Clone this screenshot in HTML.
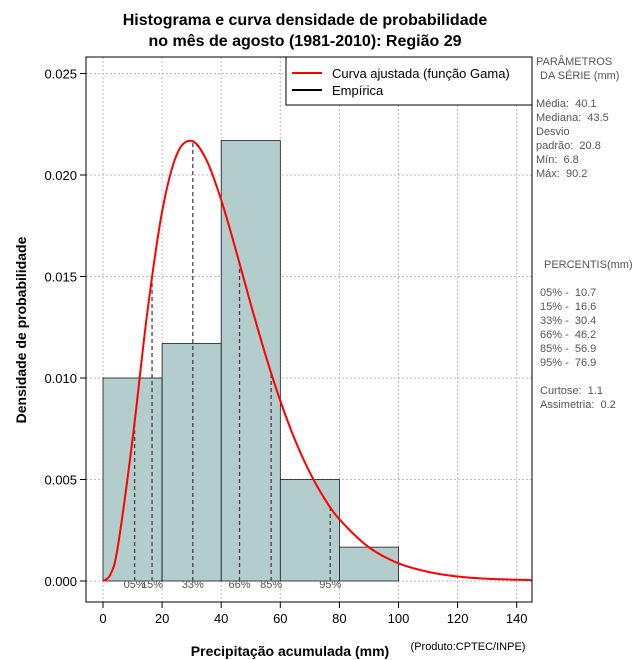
<!DOCTYPE html>
<html><head><meta charset="utf-8"><style>
body{margin:0;background:#fff;width:640px;height:660px;overflow:hidden}
svg{display:block;font-family:"Liberation Sans",sans-serif}
.side{fill:#555;font-size:11px;white-space:pre}
</style></head><body>
<svg id="c" width="640" height="660">
<text x="305" y="25" text-anchor="middle" font-size="16" font-weight="bold">Histograma e curva densidade de probabilidade</text>
<text x="305" y="46" text-anchor="middle" font-size="16" font-weight="bold">no mês de agosto (1981-2010): Região 29</text>
<g id="grid"></g><g id="bars"></g><g id="pct"></g><g id="curve"></g><g id="axes"></g>
<text x="290" y="656" text-anchor="middle" font-size="14" font-weight="bold">Precipitação acumulada (mm)</text>
<text x="468" y="650" text-anchor="middle" font-size="11">(Produto:CPTEC/INPE)</text>
<text transform="translate(26,330) rotate(-90)" text-anchor="middle" font-size="14" font-weight="bold">Densidade de probabilidade</text>
<g>
<rect x="286" y="57" width="246" height="48" fill="#fff" stroke="#000"/>
<line x1="292" y1="73" x2="322" y2="73" stroke="red" stroke-width="2"/>
<text x="332" y="78" font-size="13">Curva ajustada (função Gama)</text>
<line x1="292" y1="90" x2="322" y2="90" stroke="#000" stroke-width="2"/>
<text x="332" y="95" font-size="13">Empírica</text>
</g>
<g>
<text class="side" x="536" y="65">PARÂMETROS</text>
<text class="side" x="540" y="79">DA SÉRIE (mm)</text>
<text class="side" x="536" y="107">Média:  40.1</text>
<text class="side" x="536" y="121">Mediana:  43.5</text>
<text class="side" x="536" y="135">Desvio</text>
<text class="side" x="536" y="149">padrão:  20.8</text>
<text class="side" x="536" y="163">Mín:  6.8</text>
<text class="side" x="536" y="177">Máx:  90.2</text>
<text class="side" x="544" y="268">PERCENTIS(mm)</text>
<text class="side" x="540" y="296">05% -  10.7</text>
<text class="side" x="540" y="310">15% -  16.6</text>
<text class="side" x="540" y="324">33% -  30.4</text>
<text class="side" x="540" y="338">66% -  46.2</text>
<text class="side" x="540" y="352">85% -  56.9</text>
<text class="side" x="540" y="366">95% -  76.9</text>
<text class="side" x="540" y="394">Curtose:  1.1</text>
<text class="side" x="540" y="408">Assimetria:  0.2</text>
</g>
</svg>
<script>
const binEdges=[0,20,40,60,80,100];
const binDensity=[0.0100,0.0117,0.0217,0.0050,0.00167];
const curveX=[0,2.5,5,10,15,20,25,30,35,40,45,50,55,60,65,70,75,80,90,100,110,120,130,145];
const curveY=[0,0.00032,0.00168,0.00698,0.01323,0.01819,0.02102,0.02168,0.02074,0.01877,0.01628,0.01364,0.01113,0.00888,0.00694,0.00534,0.00405,0.00304,0.00166,0.00087,0.00045,0.00022,0.00011,0.00004];
const pctLabels=["05%","15%","33%","66%","85%","95%"];
const pctValues=[10.7,16.6,30.4,46.2,56.9,76.9];
const xTicks=[0,20,40,60,80,100,120,140];
const yTicks=[0,0.005,0.010,0.015,0.020,0.025];
const NS="http://www.w3.org/2000/svg";
const L=86,R=532,T=57,B=602;
const sx=v=>103+v*2.955;
const sy=v=>581-v*20300;
function mk(p,tag,a){const e=document.createElementNS(NS,tag);for(const k in a)e.setAttribute(k,a[k]);document.getElementById(p).appendChild(e);return e;}
function dens(x){for(let i=0;i<curveX.length-1;i++){if(x<=curveX[i+1]){const t=(x-curveX[i])/(curveX[i+1]-curveX[i]);return curveY[i]+t*(curveY[i+1]-curveY[i]);}}return curveY[curveY.length-1];}
xTicks.forEach(v=>{const g=mk('grid','line',{x1:sx(v),x2:sx(v),y1:T,y2:B,stroke:'#bbb','stroke-dasharray':'2,2'});
});
yTicks.forEach(v=>{const g=mk('grid','line',{x1:L,x2:R,y1:sy(v),y2:sy(v),stroke:'#bbb','stroke-dasharray':'2,2'});
});
binDensity.forEach((d,i)=>{const r=mk('bars','rect',{x:sx(binEdges[i]),y:sy(d),width:sx(binEdges[i+1])-sx(binEdges[i]),height:sy(0)-sy(d),fill:'#b3cccc',stroke:'#000','stroke-width':0.7});
});
pctValues.forEach((v,i)=>{const l=mk('pct','line',{x1:sx(v),x2:sx(v),y1:sy(0),y2:sy(dens(v)),stroke:'#444','stroke-dasharray':'4,3','stroke-width':1.3});

const t=mk('pct','text',{x:sx(v),y:588,'text-anchor':'middle','font-size':11,fill:'#555'});t.textContent=pctLabels[i];
});
const pts=curveX.map((x,i)=>[sx(x),sy(curveY[i])]);
let d='M'+pts[0][0]+','+pts[0][1];
for(let i=0;i<pts.length-1;i++){const p0=pts[Math.max(0,i-1)],p1=pts[i],p2=pts[i+1],p3=pts[Math.min(pts.length-1,i+2)];
d+=` C${p1[0]+(p2[0]-p0[0])/6},${p1[1]+(p2[1]-p0[1])/6} ${p2[0]-(p3[0]-p1[0])/6},${p2[1]-(p3[1]-p1[1])/6} ${p2[0]},${p2[1]}`;}
const c=mk('curve','path',{d:d,fill:'none',stroke:'red','stroke-width':2,'clip-path':'inset(0)'});

const f=mk('axes','rect',{x:L,y:T,width:R-L,height:B-T,fill:'none',stroke:'#000'});

xTicks.forEach(v=>{mk('axes','line',{x1:sx(v),x2:sx(v),y1:B,y2:B+6,stroke:'#000'});
const t=mk('axes','text',{x:sx(v),y:B+21,'text-anchor':'middle','font-size':13});t.textContent=v;
});
yTicks.forEach(v=>{mk('axes','line',{x1:L-6,x2:L,y1:sy(v),y2:sy(v),stroke:'#000'});
const t=mk('axes','text',{x:L-9,y:sy(v)+5,'text-anchor':'end','font-size':13});t.textContent=v.toFixed(3);
});
</script>
</body></html>
